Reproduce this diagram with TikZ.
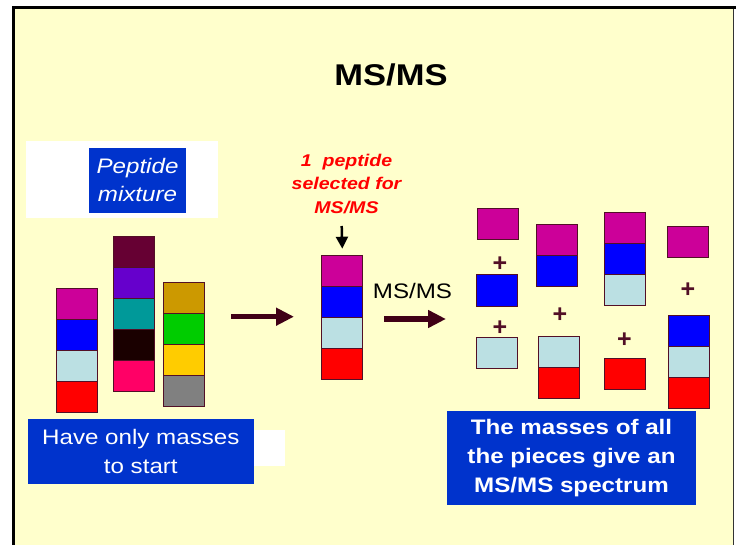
\documentclass[tikz,border=0pt]{standalone}
\usepackage{fontspec}
\setmainfont{Liberation Sans}
\usepackage{graphicx}
\usepackage{xcolor}
\usetikzlibrary{positioning, arrows.meta}

\definecolor{slide}{HTML}{FFFFCC}
\definecolor{boxblue}{HTML}{0033CC}
\definecolor{edge}{HTML}{520F26}
\definecolor{arrowc}{HTML}{400016}
\definecolor{cmag}{HTML}{CC0099}
\definecolor{cblue}{HTML}{0000FF}
\definecolor{clight}{HTML}{BBE0E3}
\definecolor{cred}{HTML}{FF0000}
\definecolor{cmaroon}{HTML}{660033}
\definecolor{cpurple}{HTML}{6600CC}
\definecolor{cteal}{HTML}{009999}
\definecolor{cdark}{HTML}{1A0000}
\definecolor{cpink}{HTML}{FF0066}
\definecolor{cgold}{HTML}{CC9900}
\definecolor{cgreen}{HTML}{00CC00}
\definecolor{cyellow}{HTML}{FFCC00}
\definecolor{cgray}{HTML}{808080}

\newcommand{\wide}[1]{\scalebox{1.15}[1]{#1}}

\begin{document}
\begin{tikzpicture}[
  x=1pt, y=-1pt,
  blk/.style={draw=edge, fill=#1, line width=0.8pt, minimum width=41pt,
              minimum height=31pt, inner sep=0pt, outer sep=0pt},
  bbox/.style={fill=boxblue, text=white, align=center, inner sep=0pt},
  plus/.style={text=edge, font=\fontsize{25}{25}\selectfont\bfseries, inner sep=0pt},
  fat/.style={-{Triangle[length=18pt,width=17pt]}, line width=5.5pt, draw=arrowc},
  pick/.style={-{Triangle[length=12pt,width=12pt]}, line width=2.5pt, draw=black},
]
\useasboundingbox (0,0) rectangle (736,545);
%% slide background and frame
\fill[white] (0,0) rectangle (736,545);
\fill[slide] (15,9) rectangle (733,545);
\draw[line width=3pt] (13.5,545) -- (13.5,7.5) -- (736,7.5);
\draw[line width=1pt, black!80] (733.5,9) -- (733.5,545);

%% title
\node (title) at (391,74.5) {\fontsize{30}{36}\selectfont\bfseries\wide{MS/MS}};

%% peptide mixture label
\node[fill=white, minimum width=192pt, minimum height=77pt, inner sep=0pt] at (122,179.4) (pepwhite) {};
\node[bbox, minimum width=97pt, minimum height=65pt, font=\fontsize{21}{28}\selectfont\itshape]
  at (137.5,180.2) (pepmix) {\wide{Peptide}\\\wide{mixture}};

%% mixture: three peptides
\node[blk=cmag]    at (77.2,304.2)  (a1) {};
\node[blk=cblue,   below=0pt of a1] (a2) {};
\node[blk=clight,  below=0pt of a2] (a3) {};
\node[blk=cred,    below=0pt of a3] (a4) {};
\node[blk=cmaroon] at (134.2,251.5) (b1) {};
\node[blk=cpurple, below=0pt of b1] (b2) {};
\node[blk=cteal,   below=0pt of b2] (b3) {};
\node[blk=cdark,   below=0pt of b3] (b4) {};
\node[blk=cpink,   below=0pt of b4] (b5) {};
\node[blk=cgold]   at (183.8,297.8) (c1) {};
\node[blk=cgreen,  below=0pt of c1] (c2) {};
\node[blk=cyellow, below=0pt of c2] (c3) {};
\node[blk=cgray,   below=0pt of c3] (c4) {};

\coordinate (f1s) at (231,316.7);
\coordinate (f1e) at (294,316.7);
\draw[fat] (f1s) -- (f1e);

%% selected peptide
\node[text=red, align=center, font=\fontsize{17}{23.5}\selectfont\bfseries\itshape]
  at (346.5,184) (seltext) {\wide{1\ \ peptide}\\\wide{selected for}\\\wide{MS/MS}};
\node[blk=cmag]   at (342.3,271.2) (m1) {};
\node[blk=cblue,  below=0pt of m1] (m2) {};
\node[blk=clight, below=0pt of m2] (m3) {};
\node[blk=cred,   below=0pt of m3] (m4) {};
\coordinate (selbot) at (341.7,226);
\draw[pick] (selbot) -- ([yshift=7pt]m1.north);

\node[font=\fontsize{21}{24}\selectfont] at (412.5,291) (msmslab) {\wide{MS/MS}};
\coordinate (f2s) at (384,319);
\coordinate (f2e) at (446,319);
\draw[fat] (f2s) -- (f2e);

%% fragments
\node[blk=cmag]   at (497.5,223.6) (fa1) {};
\node[plus]       at (500,264)     (pa1) {+};
\node[blk=cblue]  at (496.7,290.4) (fa2) {};
\node[plus]       at (500,327.7)   (pa2) {+};
\node[blk=clight] at (497.2,352.5) (fa3) {};

\node[blk=cmag]   at (556.5,239.6) (fb1) {};
\node[blk=cblue,  below=0pt of fb1] (fb2) {};
\node[plus]       at (560,315)     (pb1) {+};
\node[blk=clight] at (558.5,351.5) (fb3) {};
\node[blk=cred,   below=0pt of fb3] (fb4) {};

\node[blk=cmag]   at (624.5,228)   (fc1) {};
\node[blk=cblue,  below=0pt of fc1] (fc2) {};
\node[blk=clight, below=0pt of fc2] (fc3) {};
\node[plus]       at (624.3,340)   (pc1) {+};
\node[blk=cred]   at (624.5,374)   (fc4) {};

\node[blk=cmag]   at (687.5,242.3) (fd1) {};
\node[plus]       at (688,290)     (pd1) {+};
\node[blk=cblue]  at (689.2,330.4) (fd2) {};
\node[blk=clight, below=0pt of fd2] (fd3) {};
\node[blk=cred,   below=0pt of fd3] (fd4) {};

%% bottom labels
\node[fill=white, minimum width=31pt, minimum height=36pt, inner sep=0pt] at (269.5,448) (havewhite) {};
\node[bbox, minimum width=225.5pt, minimum height=64.7pt, font=\fontsize{21}{29}\selectfont]
  at (140.8,451.4) (havebox) {\wide{Have only masses}\\\wide{to start}};
\node[bbox, minimum width=249pt, minimum height=93.7pt, font=\fontsize{21}{29}\selectfont\bfseries]
  at (571.5,457.8) (specbox) {\wide{The masses of all}\\\wide{the pieces give an}\\\wide{MS/MS spectrum}};
\end{tikzpicture}
\end{document}
